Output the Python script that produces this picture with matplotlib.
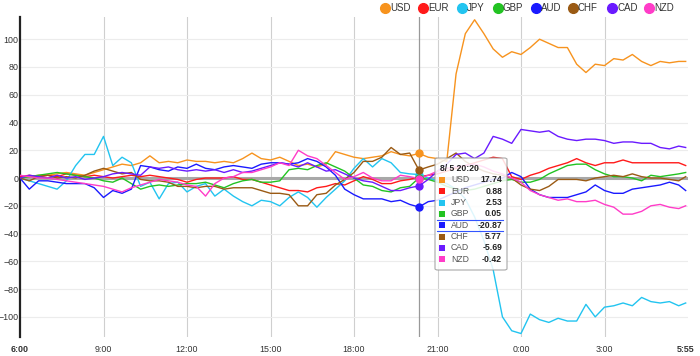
import numpy as np
import matplotlib
matplotlib.use("Agg")
import matplotlib.pyplot as plt
from matplotlib.lines import Line2D
from matplotlib.patches import FancyBboxPatch, Rectangle

plt.rcParams["font.family"] = ["Liberation Sans", "DejaVu Sans"]

# sample times, minutes after 6:00 (20 min steps, last one 5:55)
minutes = list(range(0, 1440, 20)) + [1435]

usd = [0, 1, 2, 2, 3, 4, 3, 2, 4, 6, 8, 10, 9, 11, 16, 11, 12, 11, 13, 12,
       12, 11, 12, 11, 14, 18, 14, 13, 15, 12, 9, 10, 8, 10, 19, 17, 15, 14, 15, 16,
       19, 17, 16, 17.74, 15, 14, 12, 75, 104, 114, 104, 93, 87, 91, 89, 94, 100, 97, 94, 94,
       82, 76, 82, 81, 86, 85, 89, 84, 81, 84, 83, 84, 84]
eur = [1, 2, 1, 2, 1, 3, 2, 1, 2, 1, 0, 1, 2, 1, 2, 1, 0, -1, -3, -1,
       0, 0, 0, 1, -1, -1, -3, -5, -7, -9, -9, -10, -7, -6, -4, -5, -2, 1, -1, -4,
       -4, -2, -1, 0.88, 2, 3, 5, 7, 9, 11, 13, 15, 14, 1, -1, 2, 4, 7, 9, 11,
       14, 11, 9, 11, 11, 13, 11, 11, 11, 11, 11, 11, 9]
jpy = [0, -2, -4, -6, -8, -2, 9, 17, 17, 30, 9, 15, 11, -6, -3, -15, -4, -3, -10, -6,
       -4, -13, -8, -13, -17, -20, -16, -17, -20, -14, -10, -14, -21, -14, -8, -2, 7, 14, 8, 14,
       11, 4, 3, 2.53, 0, -2, -4, -8, -15, -28, -45, -66, -100, -110, -112, -98, -102, -104, -101, -103,
       -103, -91, -100, -93, -92, -90, -92, -86, -89, -90, -89, -92, -90]
gbp = [0, 1, 2, 3, 4, 3, 2, 1, 0, -2, -3, 0, -4, -8, -6, -5, -6, -5, -4, -4,
       -3, -5, -7, -4, -2, -1, -3, -3, -2, 6, 7, 6, 9, 11, 8, 5, 0, -5, -6, -9,
       -10, -7, -6, 0.05, -1, -3, -6, -8, -9, -8, -6, -4, -2, -1, -3, -3, -1, 3, 6, 9,
       10, 10, 6, 3, 1, 1, 0, -2, 2, 1, 2, 3, 4]
aud = [0, -8, -2, -2, -3, -4, -4, -4, -7, -14, -9, -11, -8, 9, 8, 6, 5, 8, 7, 10,
       7, 6, 8, 9, 8, 7, 10, 11, 11, 10, 11, 14, 12, 8, 2, -8, -12, -15, -15, -15,
       -17, -16, -19, -20.87, -17, -16, -13, -10, -7, -5, -3, -1, 0, 4, 1, -8, -12, -14, -14, -14,
       -12, -10, -5, -9, -11, -11, -8, -7, -6, -5, -3, -5, -9]
chf = [0, -2, 1, 2, 0, 1, 0, 2, 5, 7, 5, 3, 4, -1, -2, -2, -3, -6, -6, -7,
       -6, -6, -8, -7, -7, -7, -9, -11, -11, -12, -20, -20, -12, -11, -5, -1, 4, 12, 12, 15,
       22, 17, 18, 5.77, 8, 10, 14, 18, 12, 8, 5, 3, 2, 0, -5, -8, -9, -6, -1, -1,
       -1, -2, 0, 1, 2, 1, 3, 1, 0, 0, -1, -2, 1]
cad = [0, 2, 1, 0, 2, 0, 1, -1, 0, 1, 3, 4, 3, 2, 8, 7, 8, 6, 5, 6,
       5, 6, 4, 6, 4, 5, 7, 9, 11, 10, 8, 11, 8, 5, 6, 3, 0, -2, -3, -6,
       -9, -9, -7, -5.69, -1, 5, 10, 17, 18, 14, 18, 30, 28, 25, 35, 34, 33, 34, 30, 28,
       27, 28, 28, 27, 25, 26, 26, 25, 25, 22, 21, 23, 22]
nzd = [2, 1, 0, 0, -1, -2, -3, -4, -5, -6, -8, -10, -7, -5, -3, -1, -2, -3, -5, -6,
       -13, -4, 0, 1, 4, 4, 6, 8, 11, 9, 20, 16, 14, 9, 4, -1, 1, 4, 0, -2,
       -2, 2, 1, -0.42, 2, 5, 7, 8, 9, 10, 8, 5, 3, 0, -3, -9, -12, -14, -16, -15,
       -17, -17, -16, -19, -21, -26, -26, -24, -20, -19, -21, -22, -20]

names = ["USD", "EUR", "JPY", "GBP", "AUD", "CHF", "CAD", "NZD"]
series = [usd, eur, jpy, gbp, aud, chf, cad, nzd]
colors = ["#f7931e", "#ff1a1a", "#22c4f0", "#22c322", "#1a1aff", "#9a5a14", "#6a1aff", "#ff3cc8"]

tick_pos = [0, 180, 360, 540, 720, 900, 1080, 1260, 1435]
tick_labels = ["6:00", "9:00", "12:00", "15:00", "18:00", "21:00", "0:00", "3:00", "5:55"]
hover_idx = 43
hover_label = "8/ 5 20:20"

W, H = 700, 356
fig = plt.figure(figsize=(W / 100, H / 100), dpi=100)
ax = fig.add_axes([20 / W, 1 - 337 / H, 668 / W, 320 / H])


def px(x, y):
    return x / W, 1 - y / H


for i, s in enumerate(series):
    ax.plot(minutes, s, color=colors[i], lw=1.0, zorder=3)

ax.set_xlim(0, 1440)
ax.set_ylim(-114.5, 116)
ax.set_yticks(range(-100, 101, 20))
ax.set_xticks(tick_pos)
ax.set_xticklabels(tick_labels)
for lab in ax.get_xticklabels():
    if lab.get_text() in ("6:00", "5:55"):
        lab.set_fontweight("bold")
ax.tick_params(length=0, labelsize=6.4, colors="#333333")
ax.tick_params(axis="y", pad=1)
ax.tick_params(axis="x", pad=6)
ax.grid(axis="y", color="#ececec", lw=0.8)
for t in tick_pos[1:-1]:
    ax.axvline(t, color="#cfcfcf", lw=0.8, zorder=1)
ax.axhline(0, color="#a8a8a8", lw=2.2, zorder=2)
for sp in ["top", "right", "bottom"]:
    ax.spines[sp].set_visible(False)
ax.spines["left"].set_color("#222222")
ax.spines["left"].set_linewidth(1.6)

# hover crosshair and dots
hx = minutes[hover_idx]
ax.axvline(hx, color="#999999", lw=0.9, zorder=2)
for i, s in enumerate(series):
    ax.plot(hx, s[hover_idx], "o", color=colors[i], ms=5, zorder=4)

# legend on top
leg_x = [385, 423, 462, 498, 536, 573, 612, 649]
for i, n in enumerate(names):
    fig.add_artist(Line2D([leg_x[i] / W], [1 - 8 / H], marker="o", ms=7, color=colors[i],
                          transform=fig.transFigure))
    fig.text((leg_x[i] + 5) / W, 1 - 8 / H, n, fontsize=7, color="#333333", va="center")

# tooltip
bx0, by0, bx1, by1 = 435, 158, 507, 270
box = FancyBboxPatch(px(bx0, by1), (bx1 - bx0) / W, (by1 - by0) / H,
                     boxstyle="round,pad=0,rounding_size=0.004",
                     transform=fig.transFigure, facecolor="white", alpha=0.85,
                     edgecolor="#999999", lw=0.8, zorder=10)
fig.add_artist(box)
fig.text(*px(440, 168), hover_label, fontsize=6.2, fontweight="bold", color="#222222", va="center", zorder=11)
row_y = 180
for i, n in enumerate(names):
    y = row_y + i * 11.3
    fig.add_artist(Rectangle(px(439, y + 3), 6 / W, 6 / H, transform=fig.transFigure,
                             facecolor=colors[i], edgecolor="none", zorder=11))
    fig.text(*px(451, y), n, fontsize=6.2, color="#555555", va="center", zorder=11)
    fig.text(*px(502, y), "%.2f" % series[i][hover_idx], fontsize=6.2, fontweight="bold",
             color="#222222", va="center", ha="right", zorder=11)
ya = row_y + 4 * 11.3
for yy in (ya - 5.6, ya + 5.6):
    fig.add_artist(Line2D([437 / W, 503 / W], [1 - yy / H] * 2, color="#3355ff", lw=0.8,
                          transform=fig.transFigure, zorder=11))

fig.savefig("out.png", dpi=100)
